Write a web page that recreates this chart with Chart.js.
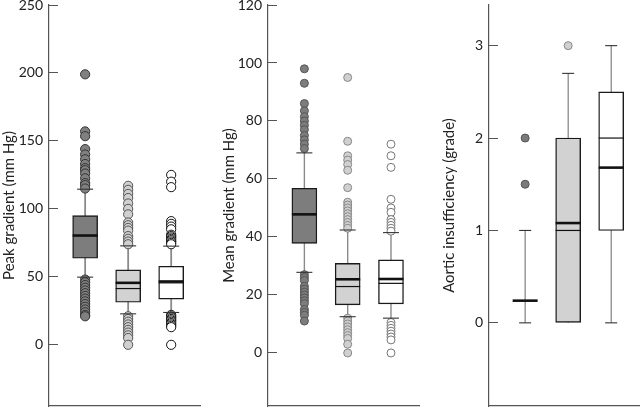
<!DOCTYPE html>
<html>
<head>
<meta charset="utf-8">
<script src="https://cdn.jsdelivr.net/npm/chart.js@4/dist/chart.umd.min.js"></script>
<style>
  html, body { margin: 0; padding: 0; background: #fff; overflow: hidden; }
  #wrap { position: relative; width: 640px; height: 407px; overflow: hidden; }
  .pane { position: absolute; top: 0; height: 407px; }
</style>
</head>
<body>
<div id="wrap">
  <div class="pane" style="left:0;width:210px"><canvas id="c1"></canvas></div>
  <div class="pane" style="left:210px;width:210px"><canvas id="c2"></canvas></div>
  <div class="pane" style="left:420px;width:220px"><canvas id="c3"></canvas></div>
</div>
<script>
// ---------- data ----------
const groups = [1, 2, 3];

// Panel 1: Peak gradient (mm Hg)
const peakTicks = [0, 50, 100, 150, 200, 250];
const peakQ1 = [63.7, 31.3, 33.6];
const peakQ3 = [95.1, 55.1, 57.8];
const peakMean = [80.4, 45.6, 46.6];
const peakMedian = [null, 41.4, 45.6];
const peakWhiskerLow = [49.8, 22.8, 23.8];
const peakWhiskerHigh = [114.5, 72.8, 72.6];
const peakOutliers1 = [199, 157, 153.5, 144, 140, 136.5, 133, 130, 128.5, 126, 122.5, 119, 117.5, 115,
  48, 46, 44, 42, 40, 38, 36, 34, 32, 30, 28, 26, 24, 22, 21];
const peakOutliers2 = [117, 114, 111, 108, 104, 100, 96, 90, 88, 86, 84, 80, 78, 76, 74,
  21, 19, 17, 15, 13, 11, 9, 7, 5, 0];
const peakOutliers3 = [125, 120, 116, 91, 89, 87, 85, 81, 80, 79, 78, 77, 76, 75, 74,
  22, 21, 20, 19, 18, 17, 16, 15, 14, 13, 0];

// Panel 2: Mean gradient (mm Hg)
const meanTicks = [0, 20, 40, 60, 80, 100, 120];
const meanQ1 = [37.8, 16.6, 16.9];
const meanQ3 = [56.8, 30.9, 32.1];
const meanMean = [47.8, 25.4, 25.5];
const meanMedian = [null, 22.9, 24.0];
const meanWhiskerLow = [27.8, 12.5, 12.0];
const meanWhiskerHigh = [69.0, 42.4, 41.5];
const meanOutliers1 = [98, 93, 86, 83.5, 81.5, 80, 78.5, 77, 75, 73.5, 72, 70.5,
  27, 26, 25, 23, 22, 21, 20, 19, 18, 17, 15, 14, 13, 11];
const meanOutliers2 = [95, 73, 68, 66.5, 65, 63, 57, 52, 51, 50, 49, 48, 47, 46, 45, 44, 43,
  12, 11, 10, 9, 8, 7, 6, 5, 3, 0];
const meanOutliers3 = [72, 68, 64, 53, 50, 48.5, 46, 45, 44, 43, 42,
  10.5, 9.5, 8.5, 7.5, 6.5, 5.5, 4.5, 0];

// Panel 3: Aortic insufficiency (grade)
const aiTicks = [0, 1, 2, 3];
const aiQ1 = [null, 0, 1];
const aiQ3 = [null, 2, 2.5];
const aiMean = [0.24, 1.08, 1.68];
const aiMedian = [null, 1.0, 2.0];
const aiWhiskerLow = [0, null, 0];
const aiWhiskerHigh = [1, 2.7, 3];
const aiOutliers1 = [2, 1.5];
const aiOutliers2 = [3];
const aiOutliers3 = [];

// ---------- rendering ----------
Chart.defaults.font.family = 'Lato, "DejaVu Sans", sans-serif';
Chart.defaults.color = '#222';

const boxFills = ['#7d7d7d', '#d2d2d2', '#ffffff'];

function buildConfig(p) {
  const datasets = [];
  // whiskers (vertical stems)
  groups.forEach((g, i) => {
    const lo = p.wLow[i] !== null ? p.wLow[i] : (p.q1[i] !== null ? p.q1[i] : null);
    const hi = p.wHigh[i];
    if (lo === null || hi === null) return;
    datasets.push({
      type: 'line', order: 6,
      data: [{x: g, y: lo}, {x: g, y: hi}],
      borderColor: p.stemColor, borderWidth: p.stemWidth,
      pointRadius: 0, fill: false
    });
  });
  // boxes
  const boxData = [], boxCol = [];
  groups.forEach((g, i) => {
    if (p.q1[i] === null) return;
    boxData.push({x: g, y: [p.q1[i], p.q3[i]]});
    boxCol.push(boxFills[i]);
  });
  datasets.push({
    type: 'bar', order: 5, grouped: false,
    data: boxData, backgroundColor: boxCol,
    borderColor: '#1a1a1a', borderWidth: 1.4, borderSkipped: false,
    barThickness: p.boxWidth
  });
  // outliers
  p.outliers.forEach((arr, i) => {
    datasets.push({
      type: 'line', order: 4, showLine: false,
      data: arr.map(v => ({x: groups[i], y: v})),
      pointStyle: 'circle', pointRadius: p.outRadius,
      pointBackgroundColor: p.outFill[i], pointBorderColor: p.outBorder[i],
      pointBorderWidth: 1
    });
  });
  // whisker caps
  const caps = [];
  groups.forEach((g, i) => {
    if (p.wLow[i] !== null) caps.push({x: g, y: p.wLow[i]});
    if (p.wHigh[i] !== null) caps.push({x: g, y: p.wHigh[i]});
  });
  datasets.push({
    type: 'line', order: 3, showLine: false, data: caps,
    pointStyle: 'line', pointRadius: p.capHalf,
    pointBorderColor: '#333', pointBorderWidth: 1.1
  });
  // thin lines (median)
  datasets.push({
    type: 'line', order: 2, showLine: false,
    data: groups.map((g, i) => ({x: g, y: p.median[i]})).filter(d => d.y !== null),
    pointStyle: 'line', pointRadius: p.boxWidth / 2,
    pointBorderColor: '#111', pointBorderWidth: 1.2
  });
  // bold lines (mean)
  datasets.push({
    type: 'line', order: 1, showLine: false,
    data: groups.map((g, i) => ({x: g, y: p.mean[i]})).filter(d => d.y !== null),
    pointStyle: 'line', pointRadius: p.meanHalf,
    pointBorderColor: '#111', pointBorderWidth: 2.6
  });

  return {
    type: 'bar',
    data: { datasets },
    options: {
      responsive: true, maintainAspectRatio: false,
      animation: false, events: [],
      layout: { autoPadding: false, padding: { left: p.padLeft, right: p.padRight, top: 5, bottom: 0 } },
      plugins: { legend: { display: false }, tooltip: { enabled: false } },
      scales: {
        x: {
          type: 'linear', min: 0.16, max: 3.67, offset: false,
          ticks: { display: false },
          grid: { display: false, drawTicks: false, offset: false },
          border: { display: true, color: '#555', width: 1.2 },
          afterFit: s => { s.height = 1; s.paddingLeft = 0; s.paddingRight = 0; }
        },
        y: {
          min: p.min, max: p.max,
          afterBuildTicks: s => { s.ticks = p.ticks.map(v => ({value: v})); },
          afterFit: s => { s.width = p.axisWidth; s.paddingTop = 0; s.paddingBottom = 0; },
          grid: { drawOnChartArea: false, drawTicks: true, tickLength: -9, color: '#555', lineWidth: 1 },
          border: { display: true, color: '#555', width: 1.2 },
          ticks: { padding: 15, font: { size: 14 }, color: '#222' },
          title: { display: true, text: p.title, font: { size: 15 }, color: '#222', padding: 0 }
        }
      }
    }
  };
}

new Chart(document.getElementById('c1'), buildConfig({
  title: 'Peak gradient (mm Hg)', ticks: peakTicks, min: -45, max: 250,
  q1: peakQ1, q3: peakQ3, mean: peakMean, median: peakMedian,
  wLow: peakWhiskerLow, wHigh: peakWhiskerHigh,
  outliers: [peakOutliers1, peakOutliers2, peakOutliers3],
  outFill: ['#808080', '#d0d0d0', '#ffffff'], outBorder: ['#333', '#555', '#111'], outRadius: 4.6,
  stemColor: '#8a8a8a', stemWidth: 1.8, boxWidth: 25, capHalf: 8, meanHalf: 12.5,
  axisWidth: 49, padLeft: 0, padRight: 10
}));

new Chart(document.getElementById('c2'), buildConfig({
  title: 'Mean gradient (mm Hg)', ticks: meanTicks, min: -18.3, max: 120,
  q1: meanQ1, q3: meanQ3, mean: meanMean, median: meanMedian,
  wLow: meanWhiskerLow, wHigh: meanWhiskerHigh,
  outliers: [meanOutliers1, meanOutliers2, meanOutliers3],
  outFill: ['#7d7d7d', '#d0d0d0', '#ffffff'], outBorder: ['#555', '#888', '#777'], outRadius: 4,
  stemColor: '#8a8a8a', stemWidth: 1.4, boxWidth: 25, capHalf: 8, meanHalf: 12.5,
  axisWidth: 48, padLeft: 10, padRight: 0
}));

new Chart(document.getElementById('c3'), buildConfig({
  title: 'Aortic insufficiency (grade)', ticks: aiTicks, min: -0.9, max: 3.44,
  q1: aiQ1, q3: aiQ3, mean: aiMean, median: aiMedian,
  wLow: aiWhiskerLow, wHigh: aiWhiskerHigh,
  outliers: [aiOutliers1, aiOutliers2, aiOutliers3],
  outFill: ['#7a7a7a', '#d0d0d0', '#ffffff'], outBorder: ['#555', '#888', '#777'], outRadius: 4,
  stemColor: '#666', stemWidth: 1, boxWidth: 25, capHalf: 6, meanHalf: 12.5,
  axisWidth: 49, padLeft: 20, padRight: 0
}));
</script>
</body>
</html>
